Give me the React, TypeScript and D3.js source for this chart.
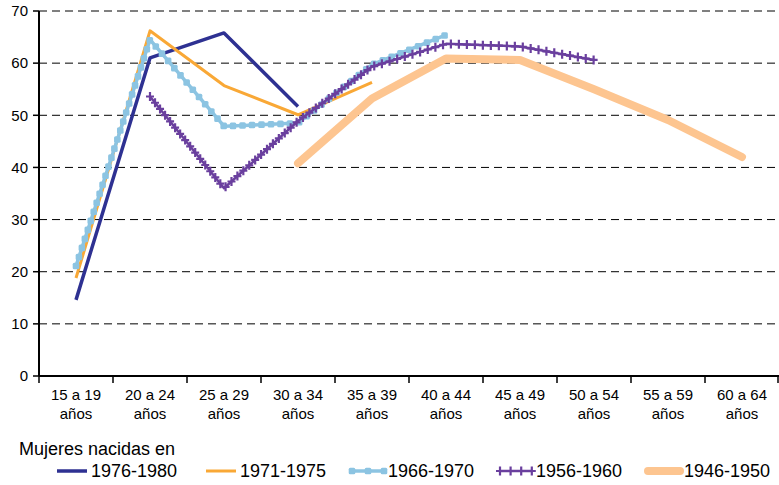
import React, { useRef, useEffect } from 'react'
import * as d3 from 'd3'

const categories = [
  '15 a 19 años',
  '20 a 24 años',
  '25 a 29 años',
  '30 a 34 años',
  '35 a 39 años',
  '40 a 44 años',
  '45 a 49 años',
  '50 a 54 años',
  '55 a 59 años',
  '60 a 64 años',
]

const s1976: (number | null)[] = [14.6, 61.0, 65.8, 51.7]
const s1971: (number | null)[] = [18.8, 66.2, 55.7, 50.1, 56.3]
const s1966: (number | null)[] = [21.1, 64.5, 47.9, 48.5, 59.7, 65.4]
const s1956: (number | null)[] = [null, 53.6, 36.0, 48.9, 59.3, 63.7, 63.2, 60.6]
const s1946: (number | null)[] = [null, null, null, 40.8, 53.2, 60.9, 60.6, 55.0, 49.1, 42.0]

const yTicks = [0, 10, 20, 30, 40, 50, 60, 70]
const legendTitle = 'Mujeres nacidas en'

const series = [
  { name: '1976-1980', values: s1976, color: '#2e3192', width: 3.5, marker: 'none' },
  { name: '1971-1975', values: s1971, color: '#f9a836', width: 3, marker: 'none' },
  { name: '1966-1970', values: s1966, color: '#8cc4e2', width: 3.5, marker: 'square' },
  { name: '1956-1960', values: s1956, color: '#6a3f9e', width: 2.5, marker: 'cross' },
  { name: '1946-1950', values: s1946, color: '#fdc590', width: 8, marker: 'none' },
]

const W = 779
const H = 485
const margin = { left: 39, right: 0, top: 11, bottom: 109 }
const FONT = '"Liberation Sans", Arial, sans-serif'

function addMarkers(
  g: d3.Selection<SVGGElement, unknown, null, undefined>,
  pathNode: SVGPathElement,
  kind: string,
  color: string,
  step: number,
) {
  const len = pathNode.getTotalLength()
  for (let l = 0; l <= len + 0.1; l += step) {
    const p = pathNode.getPointAtLength(Math.min(l, len))
    if (kind === 'square') {
      g.append('rect')
        .attr('x', p.x - 3.3)
        .attr('y', p.y - 3.3)
        .attr('width', 6.6)
        .attr('height', 6.6)
        .attr('rx', 1.5)
        .attr('fill', color)
    } else if (kind === 'cross') {
      g.append('path')
        .attr('d', `M${p.x - 4},${p.y}H${p.x + 4}M${p.x},${p.y - 4.5}V${p.y + 4.5}`)
        .attr('stroke', color)
        .attr('stroke-width', 2.2)
        .attr('fill', 'none')
    }
  }
}

const App: React.FC = () => {
  const ref = useRef<SVGSVGElement>(null)

  useEffect(() => {
    const svg = d3.select(ref.current)
    svg.selectAll('*').remove()

    const x = d3
      .scaleBand<string>()
      .domain(categories)
      .range([margin.left, W - margin.right])
    const y = d3
      .scaleLinear()
      .domain([0, 70])
      .range([H - margin.bottom, margin.top])

    // grid
    svg
      .append('g')
      .selectAll('line')
      .data(yTicks.filter((t) => t > 0))
      .enter()
      .append('line')
      .attr('x1', margin.left)
      .attr('x2', W - margin.right)
      .attr('y1', (d) => y(d))
      .attr('y2', (d) => y(d))
      .attr('stroke', '#000')
      .attr('stroke-width', 1)
      .attr('stroke-dasharray', '8,5')

    // y axis
    const yAxis = svg.append('g')
    yAxis
      .append('line')
      .attr('x1', margin.left)
      .attr('x2', margin.left)
      .attr('y1', y(70))
      .attr('y2', y(0))
      .attr('stroke', '#000')
      .attr('stroke-width', 2)
    yTicks.forEach((t) => {
      yAxis
        .append('line')
        .attr('x1', margin.left - 6)
        .attr('x2', margin.left)
        .attr('y1', y(t))
        .attr('y2', y(t))
        .attr('stroke', '#000')
        .attr('stroke-width', 1.5)
      yAxis
        .append('text')
        .attr('x', margin.left - 11)
        .attr('y', y(t))
        .attr('dy', '0.35em')
        .attr('text-anchor', 'end')
        .attr('font-size', 15)
        .attr('font-family', FONT)
        .text(t)
    })

    // x axis
    const xAxis = svg.append('g')
    xAxis
      .append('line')
      .attr('x1', margin.left)
      .attr('x2', W)
      .attr('y1', y(0))
      .attr('y2', y(0))
      .attr('stroke', '#000')
      .attr('stroke-width', 2)
    const bounds = categories.map((c) => x(c) as number).concat([W - margin.right - 1])
    bounds.forEach((b) => {
      xAxis
        .append('line')
        .attr('x1', b)
        .attr('x2', b)
        .attr('y1', y(0))
        .attr('y2', y(0) + 7)
        .attr('stroke', '#000')
        .attr('stroke-width', 1.5)
    })
    categories.forEach((c) => {
      const cx = (x(c) as number) + x.bandwidth() / 2
      const parts = c.split(' años')
      const t = xAxis
        .append('text')
        .attr('text-anchor', 'middle')
        .attr('font-size', 15)
        .attr('font-family', FONT)
      t.append('tspan').attr('x', cx).attr('y', y(0) + 24).text(parts[0])
      t.append('tspan').attr('x', cx).attr('y', y(0) + 43).text('años')
    })

    // series
    const line = d3
      .line<number | null>()
      .defined((d) => d != null)
      .x((_, i) => (x(categories[i]) as number) + x.bandwidth() / 2)
      .y((d) => y(d as number))

    series.forEach((s) => {
      const g = svg.append('g')
      const p = g
        .append('path')
        .attr('d', line(s.values) as string)
        .attr('fill', 'none')
        .attr('stroke', s.color)
        .attr('stroke-width', s.width)
        .attr('stroke-linejoin', 'round')
        .attr('stroke-linecap', s.width > 5 ? 'round' : 'butt')
      if (s.marker !== 'none') {
        addMarkers(g, p.node() as SVGPathElement, s.marker, s.color, s.marker === 'cross' ? 8 : 9.5)
      }
    })

    // legend
    const lg = svg.append('g').attr('font-family', FONT)
    lg.append('text')
      .attr('x', 19)
      .attr('y', 455)
      .attr('font-size', 18)
      .text(legendTitle)
    const legendX = [57, 206, 352, 500, 648]
    const ly = 471
    series.forEach((s, i) => {
      const x0 = legendX[i]
      const x1 = x0 + (i >= 2 ? 32 : 30)
      const item = lg.append('g')
      const p = item
        .append('path')
        .attr('d', `M${x0},${ly}H${x1}`)
        .attr('stroke', s.color)
        .attr('stroke-width', s.width)
        .attr('stroke-linecap', s.width > 5 ? 'round' : 'butt')
      if (s.marker === 'square') {
        addMarkers(item, p.node() as SVGPathElement, 'square', s.color, 16)
      } else if (s.marker === 'cross') {
        addMarkers(item, p.node() as SVGPathElement, 'cross', s.color, 10.6)
      }
      item
        .append('text')
        .attr('x', x1 + 4)
        .attr('y', ly)
        .attr('dy', '0.35em')
        .attr('font-size', 18)
        .text(s.name)
    })
  }, [])

  return (
    <svg
      ref={ref}
      width={W}
      height={H}
      style={{ position: 'absolute', left: 0, top: 0, background: '#fff' }}
    />
  )
}

export default App
